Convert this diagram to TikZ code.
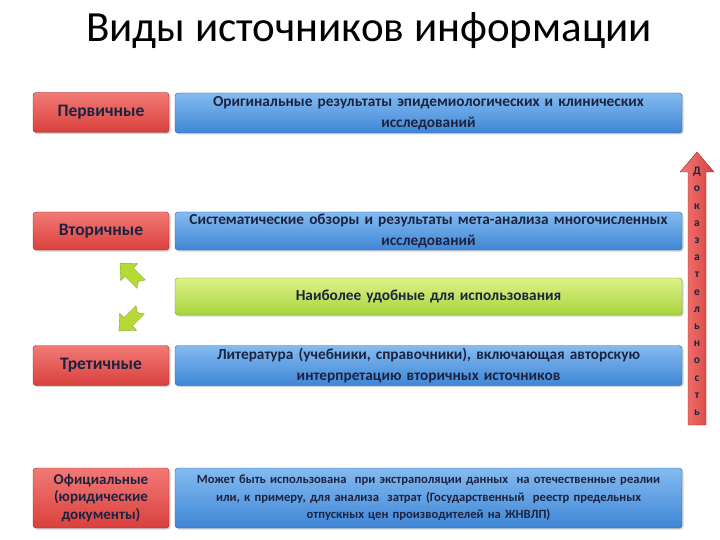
\documentclass[tikz,border=0pt]{standalone}
\usepackage{fontspec}
\setmainfont{Carlito}
\usetikzlibrary{shadows}
\definecolor{redtop}{HTML}{F27A76}
\definecolor{redbot}{HTML}{D9403C}
\definecolor{bluetop}{HTML}{84BBF0}
\definecolor{bluebot}{HTML}{3F86D6}
\definecolor{greentop}{HTML}{DDF28A}
\definecolor{greenbot}{HTML}{A8D43C}
\definecolor{txt}{HTML}{1C2340}
\tikzset{
  box/.style={rounded corners=3pt, draw=#1!70!black, line width=0.4pt, drop shadow={opacity=0.35, shadow xshift=1.5pt, shadow yshift=-1.5pt}, text=txt, font=\bfseries, align=center, inner sep=2pt},
  redbox/.style={box=redbot, top color=redtop, bottom color=redbot, minimum width=136pt, text width=130pt, font=\bfseries\fontsize{17.5}{20}\selectfont},
  bluebox/.style={box=bluebot, top color=bluetop, bottom color=bluebot, minimum width=507pt, text width=495pt, font=\bfseries\fontsize{15.3}{20.5}\selectfont},
  greenbox/.style={box=greenbot, top color=greentop, bottom color=greenbot, minimum width=507pt, text width=495pt, font=\bfseries\fontsize{15.3}{20.5}\selectfont},
  garrow/.style={fill=greenbot!85!yellow, draw=greenbot!70!black, line width=0.3pt, line join=round}
}
\begin{document}
\begin{tikzpicture}[x=1pt,y=-1pt]
\useasboundingbox (0,0) rectangle (720,540);
\node[font=\fontsize{43}{47}\selectfont, text=black] (title) at (369,31) {Виды источников информации};

\node[redbox, minimum height=40pt] (r1) at (101,112.5) {Первичные};
\node[bluebox, minimum height=40pt] (b1) at (428.5,113) {Оригинальные результаты эпидемиологических и клинических\\исследований};

\node[redbox, minimum height=38pt] (r2) at (101,231) {Вторичные};
\node[bluebox, minimum height=38pt] (b2) at (428.5,231) {Систематические обзоры и результаты мета-анализа многочисленных\\исследований};

\node[greenbox, minimum height=37pt] (g) at (428.5,296.5) {Наиболее удобные для использования};

\node[redbox, minimum height=40pt] (r3) at (101,365.5) {Третичные};
\node[bluebox, minimum height=40pt] (b3) at (428.5,365.5) {Литература (учебники, справочники), включающая авторскую\\интерпретацию вторичных источников};

\node[redbox, minimum height=60pt, font=\bfseries\fontsize{15}{17.5}\selectfont] (r4) at (101,498) {Официальные\\(юридические\\документы)};
\node[bluebox, minimum height=60pt, font=\bfseries\fontsize{12.6}{17.5}\selectfont] (b4) at (428.5,498) {Может быть использована \ при экстраполяции данных \ на отечественные реалии\\или, к примеру, для анализа \ затрат (Государственный \ реестр предельных\\отпускных цен производителей на ЖНВЛП)};

% vertical arrow
\draw[top color=redtop, bottom color=redbot, shading angle=90, draw=redbot!70!black, line width=0.4pt]
  (688,425) -- (688,172) -- (680,172) -- (697,152) -- (714,172) -- (706,172) -- (706,425) -- cycle;
\node[text=txt, font=\bfseries\fontsize{11.5}{17.2}\selectfont, align=center, inner sep=0pt, anchor=north] (dok) at (697,167)
  {Д\\о\\к\\а\\з\\а\\т\\е\\л\\ь\\н\\о\\с\\т\\ь};

% green arrows
\begin{scope}[shift={(132,275)}, rotate=135]
  \draw[garrow] (-13,-6) -- (4,-6) -- (4,-12) -- (17,0) -- (4,12) -- (4,6) -- (-13,6) -- (-9,0) -- cycle;
\end{scope}
\begin{scope}[shift={(131,319)}, rotate=225]
  \draw[garrow] (-13,-6) -- (4,-6) -- (4,-12) -- (17,0) -- (4,12) -- (4,6) -- (-13,6) -- (-9,0) -- cycle;
\end{scope}
\end{tikzpicture}
\end{document}
